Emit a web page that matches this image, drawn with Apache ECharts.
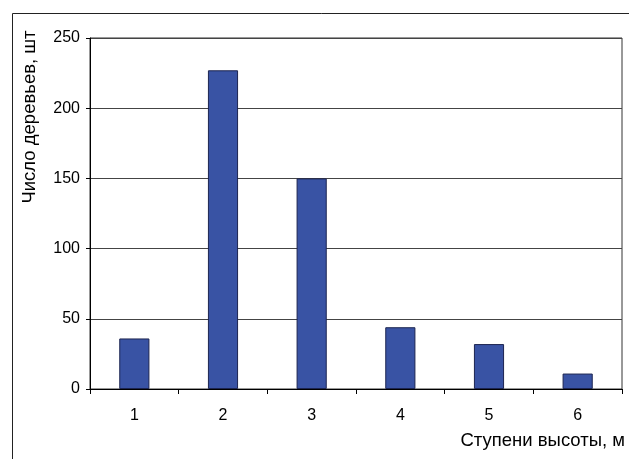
<!DOCTYPE html>
<html>
<head>
<meta charset="utf-8">
<script src="https://cdn.jsdelivr.net/npm/echarts@6/dist/echarts.min.js"></script>
<style>
  html, body { margin: 0; padding: 0; background: #fff; }
  #chart { width: 629px; height: 459px; }
</style>
</head>
<body>
<div id="chart"></div>
<script>
// ступени высоты и число деревьев
var categories = ['1', '2', '3', '4', '5', '6']
var treeCounts = [36, 227, 150, 44, 32, 11]
var yTicks = { min: 0, max: 250, interval: 50 }

var chart = echarts.init(document.getElementById('chart'))
var font = 'Liberation Sans, Arial, sans-serif'

chart.setOption({
  animation: false,
  backgroundColor: '#fff',
  grid: {
    left: 90,
    top: 38,
    right: 7,
    bottom: 70,
    show: true,
    borderColor: '#333',
    borderWidth: 1
  },
  xAxis: {
    type: 'category',
    data: categories,
    axisLine: { lineStyle: { color: '#000', width: 1 } },
    axisTick: { show: true, length: 5, lineStyle: { color: '#000' } },
    axisLabel: { margin: 19, fontSize: 16, color: '#000', fontFamily: font }
  },
  yAxis: {
    type: 'value',
    min: yTicks.min,
    max: yTicks.max,
    interval: yTicks.interval,
    axisLine: { show: true, lineStyle: { color: '#000', width: 1 } },
    axisTick: { show: true, length: 4, lineStyle: { color: '#000' } },
    axisLabel: { margin: 10, fontSize: 16, color: '#000', fontFamily: font },
    splitLine: { lineStyle: { color: '#444', width: 1 } }
  },
  series: [{
    type: 'bar',
    data: treeCounts,
    barWidth: '34%',
    itemStyle: {
      color: '#3953a4',
      borderColor: '#1c2450',
      borderWidth: 1
    }
  }],
  graphic: [
    {
      type: 'rect',
      shape: { x: 12.5, y: 13.5, width: 700, height: 500 },
      style: { fill: 'none', stroke: '#222', lineWidth: 1 },
      silent: true
    },
    {
      type: 'text',
      x: 30,
      y: 117,
      rotation: Math.PI / 2,
      style: {
        text: 'Число деревьев, шт',
        font: '18.5px ' + font,
        fill: '#000',
        align: 'center',
        verticalAlign: 'middle'
      }
    },
    {
      type: 'text',
      x: 625,
      y: 441,
      style: {
        text: 'Ступени высоты, м',
        font: '18.5px ' + font,
        fill: '#000',
        align: 'right',
        verticalAlign: 'middle'
      }
    }
  ]
})
</script>
</body>
</html>
